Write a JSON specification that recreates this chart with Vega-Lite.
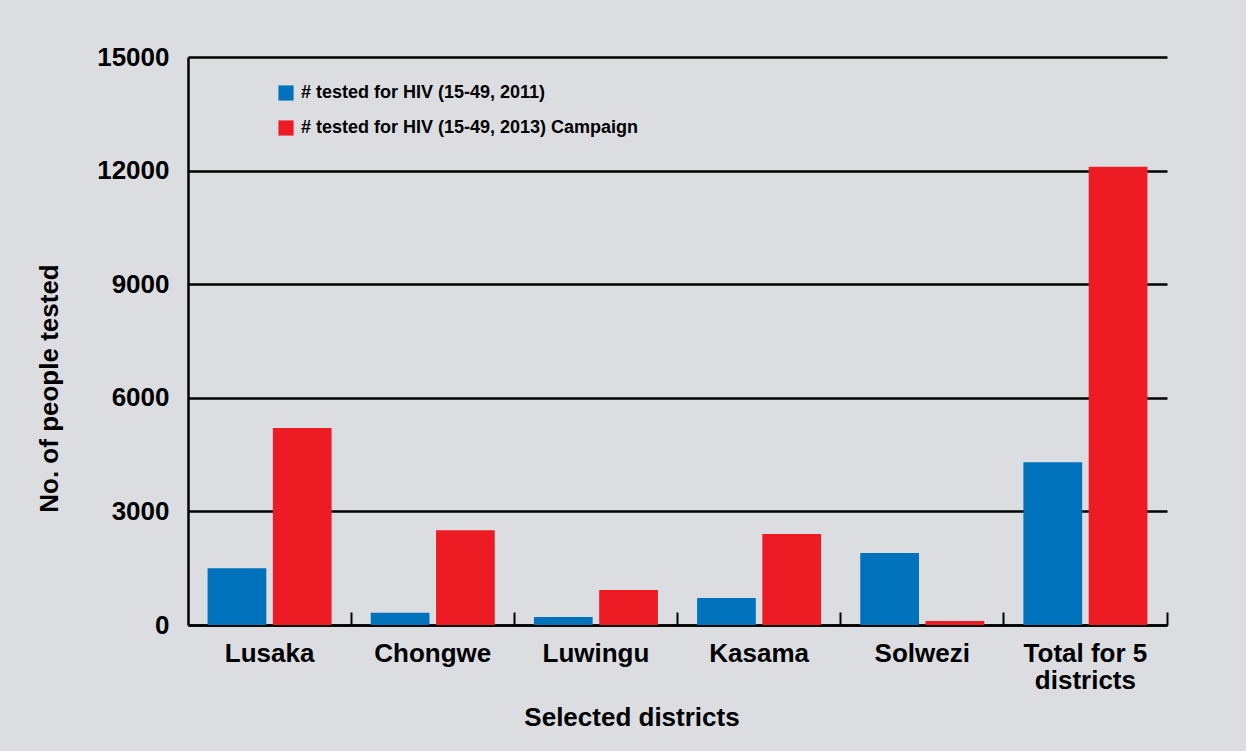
{
  "$schema": "https://vega.github.io/schema/vega-lite/v6.json",
  "autosize": {"type": "none"},
  "width": 979,
  "height": 568,
  "padding": {"left": 188, "top": 57, "right": 79, "bottom": 126},
  "background": "#dcdde0",
  "data": {
    "values": [
      {"district": "Lusaka", "series": "# tested for HIV (15-49, 2011)", "tested": 1500},
      {"district": "Lusaka", "series": "# tested for HIV (15-49, 2013) Campaign", "tested": 5200},
      {"district": "Chongwe", "series": "# tested for HIV (15-49, 2011)", "tested": 325},
      {"district": "Chongwe", "series": "# tested for HIV (15-49, 2013) Campaign", "tested": 2500},
      {"district": "Luwingu", "series": "# tested for HIV (15-49, 2011)", "tested": 210},
      {"district": "Luwingu", "series": "# tested for HIV (15-49, 2013) Campaign", "tested": 925},
      {"district": "Kasama", "series": "# tested for HIV (15-49, 2011)", "tested": 715},
      {"district": "Kasama", "series": "# tested for HIV (15-49, 2013) Campaign", "tested": 2400},
      {"district": "Solwezi", "series": "# tested for HIV (15-49, 2011)", "tested": 1900},
      {"district": "Solwezi", "series": "# tested for HIV (15-49, 2013) Campaign", "tested": 105},
      {"district": "Total for 5 districts", "series": "# tested for HIV (15-49, 2011)", "tested": 4300},
      {"district": "Total for 5 districts", "series": "# tested for HIV (15-49, 2013) Campaign", "tested": 12100}
    ]
  },
  "mark": {"type": "bar"},
  "encoding": {
    "x": {
      "field": "district",
      "type": "nominal",
      "sort": null,
      "scale": {"paddingInner": 0.24, "paddingOuter": 0.12},
      "axis": {
        "title": "Selected districts",
        "labelAngle": 0,
        "labelExpr": "datum.label == 'Total for 5 districts' ? ['Total for 5', 'districts'] : datum.label",
        "labelFont": "Liberation Sans",
        "labelFontWeight": "bold",
        "labelFontSize": 26,
        "labelColor": "#000000",
        "labelLineHeight": 27,
        "labelBaseline": "top",
        "labelPadding": 28,
        "bandPosition": 1.158,
        "labelOffset": 0,
        "tickExtra": false,
        "ticks": true,
        "tickSize": -13,
        "tickColor": "#000000",
        "tickWidth": 2,
        "domainColor": "#000000",
        "domainWidth": 2.5,
        "grid": false,
        "titleFont": "Liberation Sans",
        "titleFontWeight": "bold",
        "titleFontSize": 26,
        "titleColor": "#000000",
        "titleX": 443.5,
        "titleY": 100,
        "titleBaseline": "alphabetic",
        "titleAlign": "center",
        "titleAnchor": null
      }
    },
    "xOffset": {
      "field": "series",
      "type": "nominal",
      "sort": null,
      "scale": {"paddingInner": 0.1, "paddingOuter": 0}
    },
    "y": {
      "field": "tested",
      "type": "quantitative",
      "scale": {"domain": [0, 15000], "nice": false},
      "axis": {
        "title": "No. of people tested",
        "values": [0, 3000, 6000, 9000, 12000, 15000],
        "format": "d",
        "ticks": false,
        "labelPadding": 19,
        "labelFont": "Liberation Sans",
        "labelFontWeight": "bold",
        "labelFontSize": 26,
        "labelColor": "#000000",
        "domainColor": "#000000",
        "domainWidth": 2.5,
        "grid": true,
        "gridColor": "#000000",
        "gridWidth": 2.5,
        "gridOpacity": 1,
        "titleFont": "Liberation Sans",
        "titleFontWeight": "bold",
        "titleFontSize": 26,
        "titleColor": "#000000",
        "titleAngle": 270,
        "titleX": -131,
        "titleY": 331,
        "titleBaseline": "alphabetic",
        "titleAlign": "center",
        "titleAnchor": null
      }
    },
    "color": {
      "field": "series",
      "type": "nominal",
      "sort": null,
      "scale": {
        "domain": ["# tested for HIV (15-49, 2011)", "# tested for HIV (15-49, 2013) Campaign"],
        "range": ["#0071bb", "#ed1c24"]
      },
      "legend": {
        "title": null,
        "orient": "none",
        "legendX": 89,
        "legendY": 27,
        "direction": "vertical",
        "symbolType": "square",
        "symbolSize": 230,
        "symbolStrokeWidth": 0,
        "symbolOpacity": 1,
        "labelFont": "Liberation Sans",
        "labelFontWeight": "bold",
        "labelFontSize": 18,
        "labelColor": "#000000",
        "labelOffset": 6,
        "labelLimit": 600,
        "rowPadding": 17
      }
    }
  },
  "config": {
    "view": {"stroke": null},
    "axis": {"labelLimit": 400}
  }
}
